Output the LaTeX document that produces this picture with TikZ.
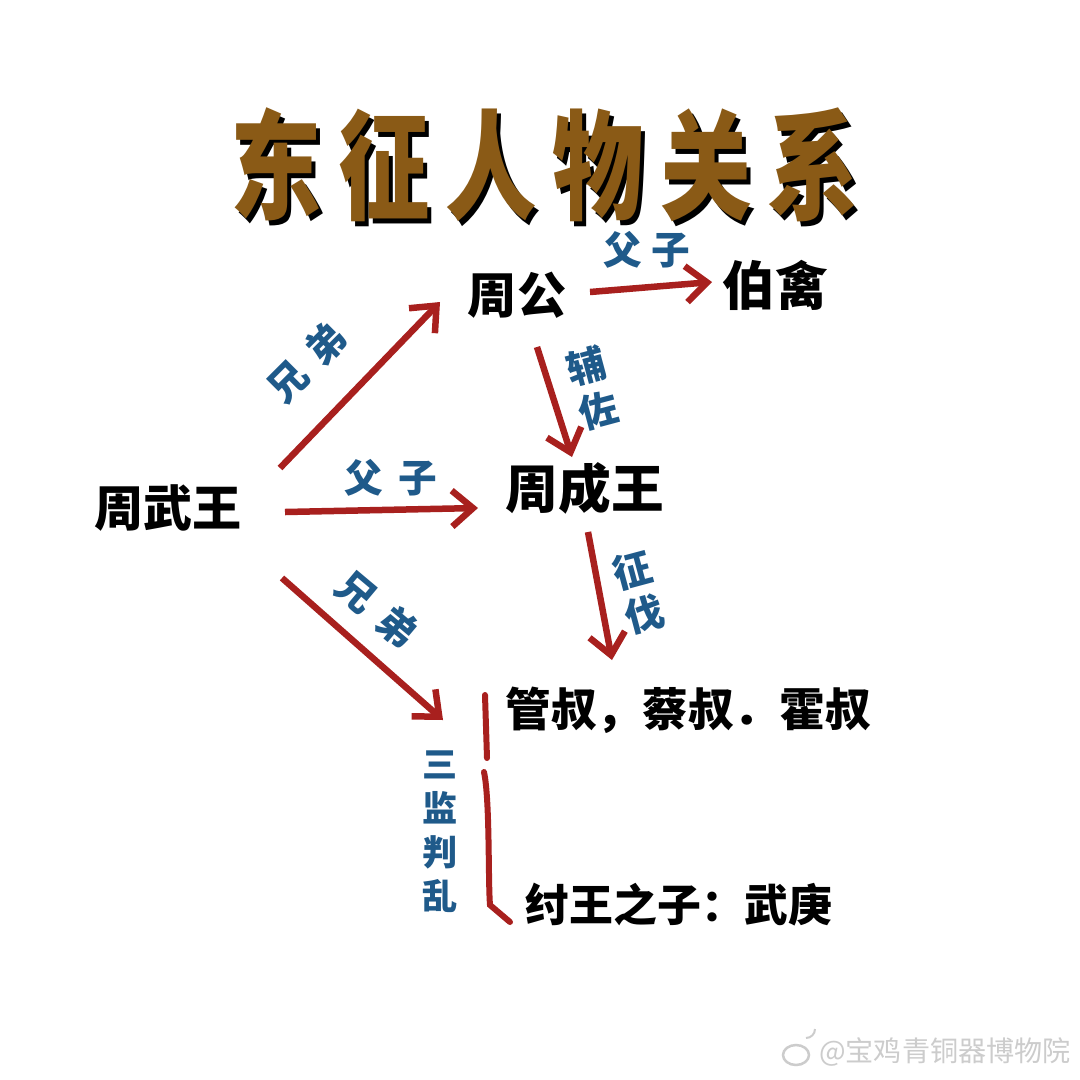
\documentclass[tikz,border=0pt]{standalone}
\usepackage{graphicx}
\usepackage{fontspec}
\setmainfont{Noto Sans CJK SC}
\usetikzlibrary{arrows.meta, positioning, calc}

\definecolor{relred}{HTML}{A8201E}
\definecolor{relblue}{HTML}{1F5A8A}
\definecolor{titlebrown}{HTML}{8A5A16}

\newcommand{\titletext}{\scalebox{1}[1.3]{东\hspace{0.32cm}征\hspace{0.32cm}人\hspace{0.32cm}物\hspace{0.32cm}关\hspace{0.32cm}系}}

\begin{document}
\begin{tikzpicture}[x=0.02cm, y=-0.02cm,
    person/.style={font=\fontsize{28}{30}\selectfont\bfseries, inner sep=0pt},
    tag/.style={text=relblue, font=\fontsize{22}{26}\selectfont\bfseries, inner sep=0pt, align=center},
    rel/.style={draw=relred, line width=0.13cm, -{Straight Barb[length=0.42cm, width=0.72cm]}},
    title/.style={font=\fontsize{52}{52}\selectfont\bfseries, inner sep=0pt}]
    \useasboundingbox[fill=white] (0,0) rectangle (1080,1080);

    % Title with shadow
    \node[title, text=black] at (549,170) {\titletext};
    \node[title, text=titlebrown] (title) at (545,165) {\titletext};

    % People
    \node[person] (wu) at (168,508) {周武王};
    \node[person] (gong) at (517,295) {周公};
    \node[person, font=\fontsize{30}{30}\selectfont\bfseries] (bo) at (775,285) {伯禽};
    \node[person, font=\fontsize{30}{30}\selectfont\bfseries] (cheng) at (585,488) {周成王};
    \node[person, anchor=west, font=\fontsize{26}{26}\selectfont\bfseries] (guan) at (505,710) {管叔，蔡叔．霍叔};
    \node[person, anchor=west, font=\fontsize{25}{25}\selectfont\bfseries] (zhou) at (525,905) {纣王之子：武庚};

    % Relations
    \draw[rel] ([shift={(112,-40)}]wu.center) -- ([shift={(-77,7)}]gong.center);
    \draw[rel] ([shift={(117,4)}]wu.center) -- ([shift={(-107,20)}]cheng.center);
    \draw[rel] ([shift={(114,70)}]wu.center) -- ([shift={(-62,10)}]guan.west);
    \draw[rel] ([shift={(73,-3)}]gong.center) -- ([shift={(-63,-3)}]bo.center);
    \draw[rel] ([shift={(20,52)}]gong.center) -- ([shift={(-13,-31)}]cheng.center);
    \draw[rel] ([shift={(3,44)}]cheng.center) -- ([shift={(107,-50)}]guan.west);

    % Labels
    \node[tag, rotate=45] (xd1) at (307,362) {兄\hspace{0.3cm}弟};
    \node[tag] (fz1) at (391,478) {父\hspace{0.3cm}子};
    \node[tag, rotate=-40] (xd2) at (377,609) {兄\hspace{0.3cm}弟};
    \node[tag] (fz2) at (647,250) {父\hspace{0.2cm}子};
    \node[tag, rotate=15] (fuzuo) at (592,388) {辅\\佐};
    \node[tag, rotate=15] (zhengfa) at (638,592) {征\\伐};
    \node[tag, font=\fontsize{20}{25}\selectfont\bfseries] (sanjian) at (440,832) {三\\监\\判\\乱};

    % Bracket
    \draw[relred, line width=0.12cm, line cap=round] (485,695) -- (487,758);
    \draw[relred, line width=0.12cm, line cap=round] (484,772) .. controls (490,800) and (488,880) .. (490,905) -- (510,922);

    % Watermark
    \node[text=gray!40, font=\fontsize{16}{16}\selectfont] (mark) at (945,1052) {@宝鸡青铜器博物院};
    \draw[gray!40, line width=0.05cm] (796,1055) ellipse (13 and 10);
    \draw[gray!40, line width=0.04cm] (806,1038) arc (90:0:9);
\end{tikzpicture}
\end{document}
